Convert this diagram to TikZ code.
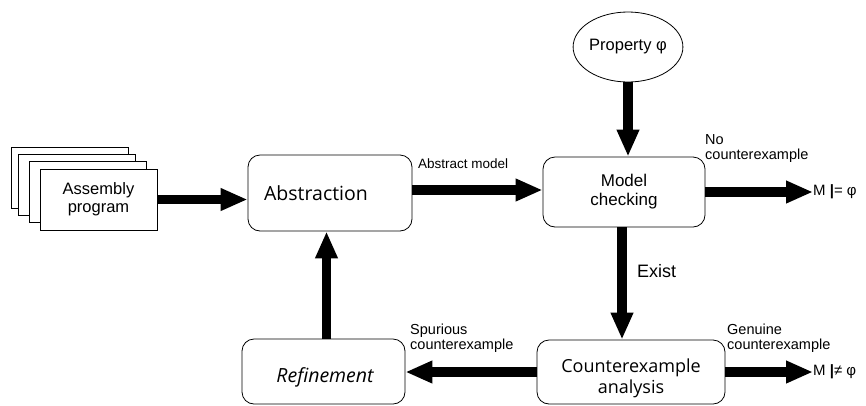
\documentclass[tikz,border=0pt]{standalone}
\usepackage{fontspec}
\setmainfont{Liberation Sans}
\newfontfamily\bigfont{Open Sans}
\usetikzlibrary{arrows.meta,shapes.geometric}
\begin{document}
\begin{tikzpicture}[x=1pt,y=-1pt,
  page/.style={draw,fill=white,line width=0.8pt,minimum width=117pt,minimum height=61pt,inner sep=0pt},
  rbox/.style={draw,fill=white,rounded corners=12pt,line width=0.8pt,inner sep=0pt},
  fat/.style={line width=9.5pt,-{Triangle[width=21pt,length=27pt]}},
  lbl/.style={font=\fontsize{14.5}{15}\selectfont,align=left,inner sep=0pt},
  txt/.style={inner sep=0pt,align=center}]
\useasboundingbox (0,0) rectangle (866,405);
% stacked pages
\node[page] (p1) at (69.5,177.5) {};
\node[page] (p2) at (76.5,184.5) {};
\node[page] (p3) at (87.5,192) {};
\node[page,align=center,font=\fontsize{16.5}{18}\selectfont] (asm) at (98.5,199.5) {Assembly\\program};
% boxes
\node[rbox,minimum width=164pt,minimum height=76pt] (abs) at (330,193) {};
\node[txt,font=\bigfont\fontsize{19.5}{22}\selectfont] (abst) at (316,193) {Abstraction};
\node[rbox,minimum width=162pt,minimum height=70pt,align=center,font=\fontsize{17}{19}\selectfont] (mc) at (624,192) {Model\\checking};
\node[draw,ellipse,line width=0.8pt,minimum width=105pt,minimum height=70pt,inner sep=0pt,font=\fontsize{16.5}{18}\selectfont] (prop) at (628,47) {Property φ};
\node[rbox,minimum width=188pt,minimum height=64pt] (ca) at (631,372) {};
\node[txt,font=\bigfont\fontsize{18}{21}\selectfont] (cat) at (631,378) {Counterexample\\analysis};
\node[rbox,minimum width=163pt,minimum height=65pt] (ref) at (323.5,371.5) {};
\node[txt,font=\bigfont\itshape\fontsize{19.5}{22}\selectfont] (reft) at (325,377) {Refinement};
% result texts
\node[anchor=west,inner sep=0pt,font=\fontsize{15}{17}\selectfont] (r1) at (813,192) {M \textbf{|}= φ};
\node[anchor=west,inner sep=0pt,font=\fontsize{15}{17}\selectfont] (r2) at (813,372) {M \textbf{|}≠ φ};
% arrows
\draw[fat] (asm.east) -- (asm.east -| abs.west);
\draw[fat] (abs.east |- 0,190) -- (mc.west |- 0,190);
\draw[fat] (prop.south) -- (prop.south |- mc.north);
\draw[fat] (mc.east) -- (r1.west);
\draw[fat] ([xshift=-2pt]mc.south) -- ([xshift=-2pt]mc.south |- ca.north);
\draw[fat] (ca.west) -- (ca.west -| ref.east);
\draw[fat] (ca.east) -- (r2.west);
\draw[fat] ([xshift=3pt]ref.north) -- ([xshift=3pt]ref.north |- abs.south);
% labels
\node[lbl,anchor=west,font=\fontsize{13.5}{15}\selectfont] (l1) at (418,164) {Abstract model};
\node[lbl,anchor=south west] (l2) at (705,163) {No\\counterexample};
\node[lbl,anchor=west,font=\fontsize{18}{20}\selectfont] (l3) at (637,271) {Exist};
\node[lbl,anchor=south west] (l4) at (410,353) {Spurious\\counterexample};
\node[lbl,anchor=south west] (l5) at (727,353) {Genuine\\counterexample};
\end{tikzpicture}
\end{document}
